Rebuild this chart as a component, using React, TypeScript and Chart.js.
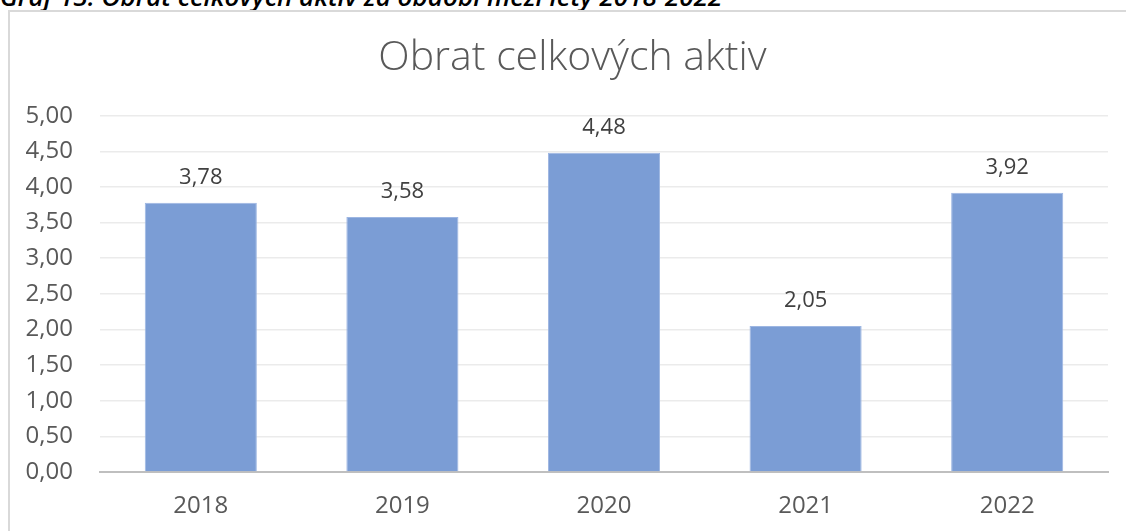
import React, { useEffect, useRef } from "react";
import { Chart, registerables } from "chart.js";

Chart.register(...registerables);

const categories = ["2018", "2019", "2020", "2021", "2022"];
const values = [3.78, 3.58, 4.48, 2.05, 3.92];
const yTicks = [0, 0.5, 1, 1.5, 2, 2.5, 3, 3.5, 4, 4.5, 5];
const chartTitle = "Obrat celkových aktiv";
const caption = "Graf 13: Obrat celkových aktiv za období mezi lety 2018-2022";

const fmt = (v: number) => v.toFixed(2).replace(".", ",");

const dataLabelPlugin = {
  id: "dataLabels",
  afterDatasetsDraw(chart: any) {
    const ctx = chart.ctx;
    const meta = chart.getDatasetMeta(0);
    ctx.save();
    ctx.font = "22px 'Open Sans'";
    ctx.fillStyle = "#404040";
    ctx.textAlign = "center";
    ctx.textBaseline = "middle";
    meta.data.forEach((bar: any, i: number) => {
      ctx.fillText(fmt(values[i]), bar.x, bar.y - 25);
    });
    ctx.restore();
  },
};

const titlePlugin = {
  id: "centeredTitle",
  afterDraw(chart: any) {
    const ctx = chart.ctx;
    ctx.save();
    ctx.font = "300 41px 'Open Sans'";
    ctx.fillStyle = "#595959";
    ctx.textAlign = "center";
    ctx.textBaseline = "alphabetic";
    ctx.fillText(chartTitle, 572.5, 70);
    ctx.restore();
  },
};

export default function App() {
  const ref = useRef<HTMLCanvasElement>(null);
  useEffect(() => {
    if (!ref.current) return;
    const chart = new Chart(ref.current, {
      type: "bar",
      data: {
        labels: categories,
        datasets: [
          {
            data: values,
            backgroundColor: "#7b9dd5",
            borderColor: "#9db6e2",
            borderWidth: 1,
            categoryPercentage: 1,
            barPercentage: 0.556,
          },
        ],
      },
      options: {
        animation: false,
        responsive: false,
        maintainAspectRatio: false,
        layout: { padding: { left: 0, right: 18, top: 115.7, bottom: 0 } },
        plugins: {
          legend: { display: false },
          tooltip: { enabled: false },
          title: { display: false },
        },
        scales: {
          x: {
            grid: { display: false, drawTicks: false },
            border: { display: true, color: "#bfbfbf", width: 2 },
            ticks: {
              color: "#595959",
              font: { family: "'Open Sans'", size: 24 },
              padding: 20,
            },
            afterFit(scale: any) {
              scale.height = 59;
            },
          },
          y: {
            min: 0,
            max: 5,
            afterBuildTicks(scale: any) {
              scale.ticks = yTicks.map((v) => ({ value: v }));
            },
            grid: {
              color: "#ebebeb",
              lineWidth: 1.5,
              drawTicks: false,
            },
            border: { display: false },
            ticks: {
              color: "#595959",
              font: { family: "'Open Sans'", size: 24 },
              padding: 27,
              callback: (v: any) => fmt(Number(v)),
            },
            afterFit(scale: any) {
              scale.width = 100;
            },
          },
        },
      },
      plugins: [dataLabelPlugin, titlePlugin],
    });
    return () => chart.destroy();
  }, []);

  return (
    <div
      style={{
        position: "fixed",
        left: 0,
        top: 0,
        width: 1126,
        height: 531,
        overflow: "hidden",
        background: "#fff",
      }}
    >
      <div
        style={{
          position: "absolute",
          left: 0,
          top: -19,
          fontFamily: "'Open Sans'",
          fontStyle: "italic",
          fontWeight: 600,
          fontSize: 26,
          whiteSpace: "nowrap",
          color: "#000",
          lineHeight: "30px",
        }}
      >
        {caption}
      </div>
      <div
        style={{
          position: "absolute",
          left: 8,
          top: 10,
          width: 1140,
          height: 540,
          border: "2px solid #d9d9d9",
          boxSizing: "border-box",
        }}
      />
      <canvas
        ref={ref}
        width={1126}
        height={531}
        style={{ position: "absolute", left: 0, top: 0, width: 1126, height: 531 }}
      />
    </div>
  );
}
